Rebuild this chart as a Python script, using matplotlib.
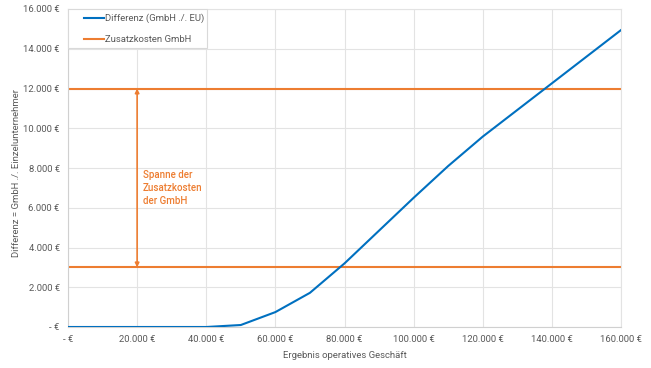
import matplotlib
matplotlib.use("Agg")
import matplotlib.pyplot as plt
from matplotlib.patches import Rectangle
from matplotlib.ticker import FuncFormatter

plt.rcParams['font.family'] = ['Roboto', 'DejaVu Sans']

# Ergebnis operatives Geschäft (EUR) und Differenz GmbH ./. EU
ergebnis = [0, 10000, 20000, 30000, 40000, 50000, 60000, 70000, 80000,
            90000, 100000, 110000, 120000, 130000, 140000, 150000, 160000]
differenz = [0, 0, 0, 0, 0, 100, 750, 1720, 3200,
             4850, 6500, 8100, 9580, 10920, 12260, 13600, 14940]

# Spanne der Zusatzkosten der GmbH
kosten_min = 3000
kosten_max = 12000
pfeil_x = 20000

blau = '#0070C0'
orange = '#ED7D31'
grau = '#595959'


def euro(v, pos):
    if v == 0:
        return '- €'
    return '{:,.0f} €'.format(v).replace(',', '.')


fig = plt.figure(figsize=(6.51, 3.68), dpi=100)
ax = fig.add_axes([68 / 651, 1 - 327 / 368, (621 - 68) / 651, (327 - 9) / 368])

ax.plot(ergebnis, differenz, color=blau, lw=1.5, label='Differenz (GmbH ./. EU)', zorder=3)
ax.axhline(kosten_max, color=orange, lw=1.5, label='Zusatzkosten GmbH', zorder=2)
ax.axhline(kosten_min, color=orange, lw=1.5, zorder=2)

ax.annotate('', xy=(pfeil_x, kosten_max), xytext=(pfeil_x, kosten_min),
            arrowprops=dict(arrowstyle='<|-|>', color=orange, lw=1.2,
                            mutation_scale=6, shrinkA=0, shrinkB=0))
ax.text(pfeil_x + 1700, 7000, 'Spanne der\nZusatzkosten\nder GmbH', color=orange,
        fontsize=7, weight='medium', va='center', ha='left', linespacing=1.35)

ax.set_xlim(0, 160000)
ax.set_ylim(0, 16000)
ax.set_xticks(range(0, 160001, 20000))
ax.set_yticks(range(0, 16001, 2000))
ax.xaxis.set_major_formatter(FuncFormatter(euro))
ax.yaxis.set_major_formatter(FuncFormatter(euro))
ax.tick_params(length=0, labelsize=6.8, colors=grau, pad=6)
ax.grid(True, color='#E3E3E3', lw=0.8)
ax.set_axisbelow(True)
for side in ['top', 'right']:
    ax.spines[side].set_color('#E3E3E3')
for side in ['left', 'bottom']:
    ax.spines[side].set_color('#D0D0D0')

ax.set_xlabel('Ergebnis operatives Geschäft', fontsize=6.8, color=grau, labelpad=5)
ax.set_ylabel('Differenz = GmbH ./. Einzelunternehmer', fontsize=6.8, color=grau)
ax.yaxis.set_label_coords(-0.085, 0.484)

# Legendenrahmen
ax.add_patch(Rectangle((0, 1 - 39 / 318), 139 / 553, 39 / 318, transform=ax.transAxes,
                       facecolor='white', edgecolor='#D9D9D9', lw=0.8,
                       zorder=4.5, clip_on=False))
leg = ax.legend(loc='upper left', bbox_to_anchor=(16 / 553, 0.986), borderaxespad=0,
                borderpad=0, fontsize=6.8, frameon=False, handlelength=2.1,
                handletextpad=0.1, labelspacing=1.25)
for t in leg.get_texts():
    t.set_color(grau)

fig.savefig('out.png', dpi=100)
